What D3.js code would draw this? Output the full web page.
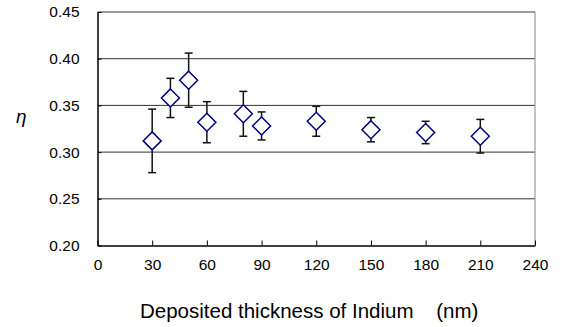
<!DOCTYPE html>
<html>
<head>
<meta charset="utf-8">
<script src="https://cdn.jsdelivr.net/npm/d3@7"></script>
<style>
  body { margin: 0; background: #fff; }
  text { font-family: "Liberation Sans", Arial, sans-serif; }
</style>
</head>
<body>
<svg id="chart"></svg>
<script>
// data
const thickness = [30, 40, 50, 60, 80, 90, 120, 150, 180, 210];
const eta = [0.312, 0.358, 0.377, 0.332, 0.341, 0.328, 0.333, 0.324, 0.321, 0.317];
const errHigh = [0.346, 0.379, 0.406, 0.354, 0.365, 0.343, 0.349, 0.337, 0.333, 0.335];
const errLow = [0.278, 0.337, 0.348, 0.310, 0.317, 0.313, 0.317, 0.311, 0.309, 0.299];
const xTicks = [0, 30, 60, 90, 120, 150, 180, 210, 240];
const yTicks = [0.20, 0.25, 0.30, 0.35, 0.40, 0.45];

const w = 567, h = 327;
const margin = { top: 12, right: 32, bottom: 81.5, left: 97.5 };
const iw = w - margin.left - margin.right;
const ih = h - margin.top - margin.bottom;

const svg = d3.select('#chart')
    .attr('width', w)
    .attr('height', h);

const g = svg.append('g')
    .attr('transform', `translate(${margin.left}, ${margin.top})`);

const xScale = d3.scaleLinear().domain([0, 240]).range([0, iw]);
const yScale = d3.scaleLinear().domain([0.20, 0.45]).range([ih, 0]);

// horizontal gridlines
g.selectAll('.grid')
    .data(yTicks.slice(1))
    .enter()
    .append('line')
    .attr('x1', 0)
    .attr('x2', iw)
    .attr('y1', d => yScale(d))
    .attr('y2', d => yScale(d))
    .attr('stroke', '#333')
    .attr('stroke-width', 1);

// right border
g.append('line')
    .attr('x1', iw).attr('x2', iw)
    .attr('y1', 0).attr('y2', ih)
    .attr('stroke', '#888')
    .attr('stroke-width', 1);

// x axis
const xAxis = d3.axisBottom(xScale)
    .tickValues(xTicks)
    .tickSizeInner(-5)
    .tickSizeOuter(0)
    .tickPadding(13)
    .tickFormat(d3.format('d'));
const xg = g.append('g')
    .attr('transform', `translate(0, ${ih})`)
    .call(xAxis);
xg.select('.domain').attr('stroke', '#000').attr('stroke-width', 1.5);
xg.selectAll('.tick line').attr('stroke', '#000');
xg.selectAll('.tick text').attr('font-size', 15.5).attr('fill', '#000')
    .attr('font-family', '"Liberation Sans", Arial, sans-serif');

// y axis
const yAxis = d3.axisLeft(yScale)
    .tickValues(yTicks)
    .tickSizeInner(-4)
    .tickSizeOuter(0)
    .tickPadding(18)
    .tickFormat(d3.format('.2f'));
const yg = g.append('g').call(yAxis);
yg.select('.domain').attr('stroke', '#000').attr('stroke-width', 1.5);
yg.selectAll('.tick line').attr('stroke', '#000');
yg.selectAll('.tick text').attr('font-size', 15.5).attr('fill', '#000')
    .attr('font-family', '"Liberation Sans", Arial, sans-serif');

// error bars
const eb = g.selectAll('.err')
    .data(thickness)
    .enter()
    .append('g')
    .attr('class', 'err')
    .attr('stroke', '#111')
    .attr('stroke-width', 1.5);
eb.append('line')
    .attr('x1', d => xScale(d)).attr('x2', d => xScale(d))
    .attr('y1', (d, i) => yScale(errHigh[i]))
    .attr('y2', (d, i) => yScale(errLow[i]));
eb.append('line')
    .attr('x1', d => xScale(d) - 4).attr('x2', d => xScale(d) + 4)
    .attr('y1', (d, i) => yScale(errHigh[i]))
    .attr('y2', (d, i) => yScale(errHigh[i]));
eb.append('line')
    .attr('x1', d => xScale(d) - 4).attr('x2', d => xScale(d) + 4)
    .attr('y1', (d, i) => yScale(errLow[i]))
    .attr('y2', (d, i) => yScale(errLow[i]));

// diamond markers
const r = 9;
g.selectAll('.pt')
    .data(thickness)
    .enter()
    .append('path')
    .attr('class', 'pt')
    .attr('d', (d, i) => {
        const cx = xScale(d), cy = yScale(eta[i]);
        return `M${cx},${cy - r}L${cx + r},${cy}L${cx},${cy + r}L${cx - r},${cy}Z`;
    })
    .attr('fill', '#fff')
    .attr('stroke', '#000080')
    .attr('stroke-width', 1.5);

// axis titles
svg.append('text')
    .attr('x', 16)
    .attr('y', 123)
    .attr('font-family', '"DejaVu Serif", "Liberation Serif", serif')
    .attr('font-style', 'italic')
    .attr('font-size', 19)
    .text('η');

svg.append('text')
    .attr('x', 140)
    .attr('y', 318)
    .attr('font-size', 20.5)
    .attr('fill', '#000')
    .attr('xml:space', 'preserve')
    .style('white-space', 'pre')
    .text('Deposited thickness of Indium    (nm)');
</script>
</body>
</html>
